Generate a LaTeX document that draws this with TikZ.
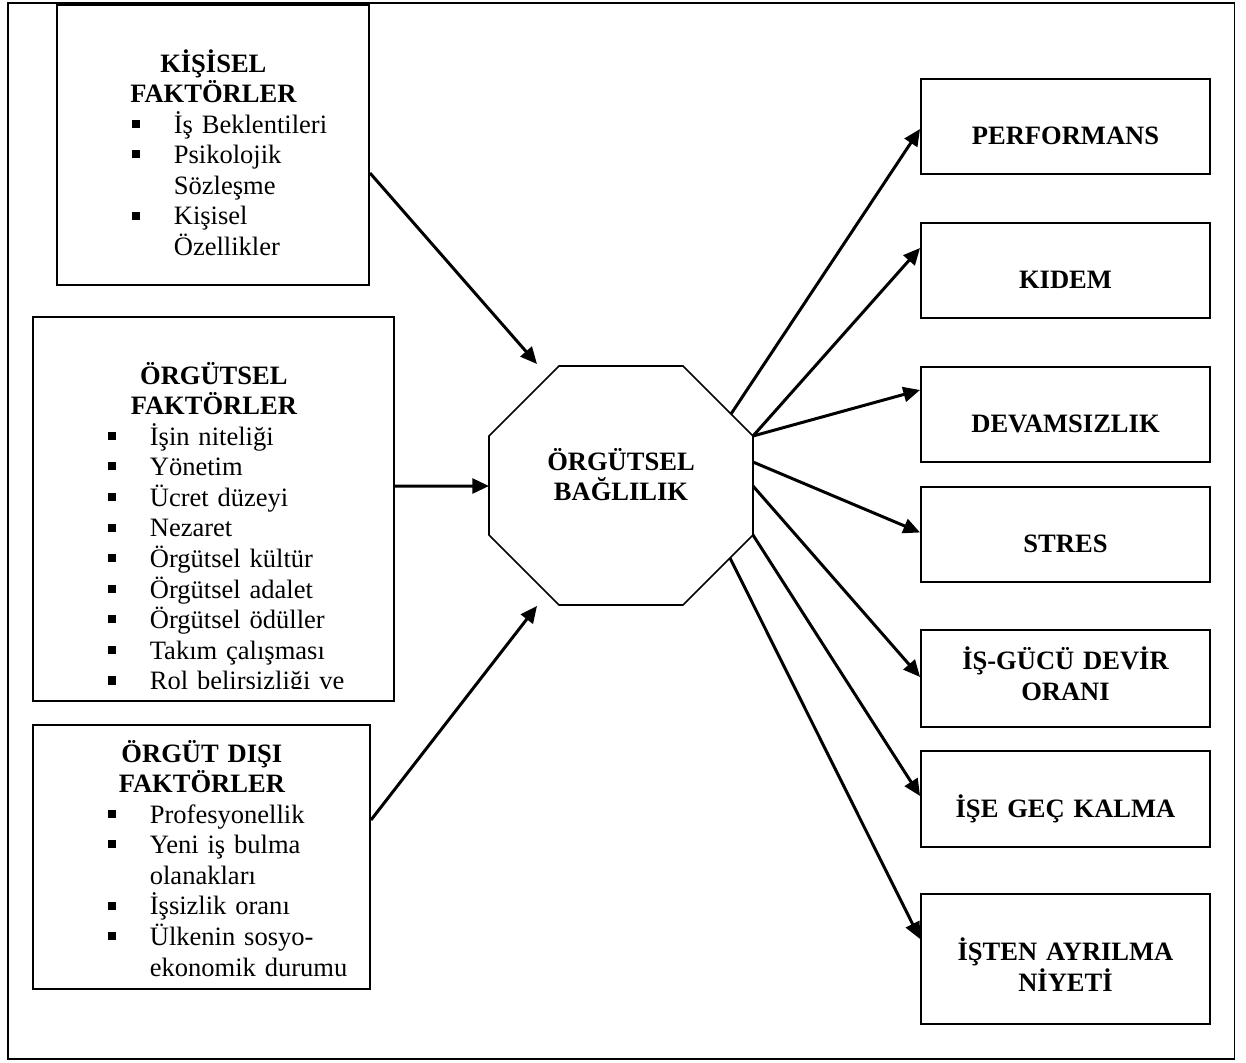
\documentclass[tikz,border=0pt]{standalone}
\usepackage{fontspec}
\setmainfont{Liberation Serif}
\usetikzlibrary{arrows.meta}

\lineskiplimit=-\maxdimen
\newcommand{\madde}[1]{\par\noindent\hspace*{1.5cm}\makebox[0.83cm][l]{\rule[3pt]{4.6pt}{4.6pt}}#1}
\newcommand{\devam}[1]{\par\noindent\hspace*{2.33cm}#1}

\begin{document}
\begin{tikzpicture}[font=\fontsize{15.1}{17.4}\selectfont,
    kutu/.style={draw, line width=1.1pt, inner sep=0pt},
    liste/.style={anchor=base west, inner sep=0pt, align=left},
    sonuc/.style={draw, line width=1.1pt, anchor=north, inner sep=0pt, text width=5.78cm, align=center, font=\fontsize{15.1}{17.4}\selectfont\bfseries, text height=1.32cm, text depth=0.58cm},
    ok/.style={-{Triangle[length=9.5pt,width=8.5pt]}, line width=1.7pt}]
        \useasboundingbox (0,0) rectangle (24.92,-21.24);
        \draw[line width=1.1pt] (0.16,-0.06) rectangle (24.69,-21.18);

        % factors
        \node[kutu, minimum width=6.24cm, minimum height=5.60cm] at (4.26,-2.90) (kisisel) {};
        \node[liste, text width=6.24cm] at (1.14,-1.44) (kisisel text) {%
            {\centering\bfseries KİŞİSEL\\FAKTÖRLER\par}
            \madde{İş Beklentileri}
            \madde{Psikolojik}
            \devam{Sözleşme}
            \madde{Kişisel}
            \devam{Özellikler}};

        \node[kutu, minimum width=7.22cm, minimum height=7.68cm] at (4.27,-10.18) (orgutsel) {};
        \begin{scope}
            \clip (0.66,-6.34) rectangle (7.88,-13.77);
            \node[liste, text width=7.22cm] at (0.66,-7.68) (orgutsel text) {%
                {\centering\bfseries ÖRGÜTSEL\\FAKTÖRLER\par}
                \madde{İşin niteliği}
                \madde{Yönetim}
                \madde{Ücret düzeyi}
                \madde{Nezaret}
                \madde{Örgütsel kültür}
                \madde{Örgütsel adalet}
                \madde{Örgütsel ödüller}
                \madde{Takım çalışması}
                \madde{Rol belirsizliği ve}};
        \end{scope}

        \node[kutu, minimum width=6.74cm, minimum height=5.28cm] at (4.03,-17.14) (orgut disi) {};
        \node[liste, text width=6.74cm] at (0.66,-15.24) (orgut disi text) {%
            {\centering\bfseries ÖRGÜT DIŞI\\FAKTÖRLER\par}
            \madde{Profesyonellik}
            \madde{Yeni iş bulma}
            \devam{olanakları}
            \madde{İşsizlik oranı}
            \madde{Ülkenin sosyo-}
            \devam{ekonomik durumu}};

        % commitment
        \coordinate (o1) at (11.18,-7.32);
        \coordinate (o2) at (13.66,-7.32);
        \coordinate (o3) at (15.06,-8.72);
        \coordinate (o4) at (15.06,-10.70);
        \coordinate (o5) at (13.66,-12.10);
        \coordinate (o6) at (11.18,-12.10);
        \coordinate (o7) at (9.78,-10.70);
        \coordinate (o8) at (9.78,-8.72);
        \draw[line width=0.9pt] (o1) -- (o2) -- (o3) -- (o4) -- (o5) -- (o6) -- (o7) -- (o8) -- cycle;
        \node[font=\fontsize{15.1}{17.4}\selectfont\bfseries, text width=4.4cm, align=center, anchor=base, inner sep=0pt] at (12.42,-9.40) (baglilik) {ÖRGÜTSEL\\BAĞLILIK};

        % outcomes
        \node[sonuc] at (21.31,-1.56) (performans) {PERFORMANS};
        \node[sonuc] at (21.31,-4.44) (kidem) {KIDEM};
        \node[sonuc] at (21.31,-7.32) (devamsizlik) {DEVAMSIZLIK};
        \node[sonuc] at (21.31,-9.72) (stres) {STRES};
        \node[sonuc, text height=0.80cm, text depth=1.14cm] at (21.31,-12.58) (isgucu) {İŞ-GÜCÜ DEVİR\\ORANI};
        \node[sonuc, text height=1.34cm] at (21.31,-15.00) (gec) {İŞE GEÇ KALMA};
        \node[sonuc, text height=1.34cm, text depth=1.26cm] at (21.31,-17.86) (isten) {İŞTEN AYRILMA\\NİYETİ};

        % links
        \coordinate (c kisisel) at (10.74,-7.28);
        \coordinate (c orgutsel) at (9.78,-9.72);
        \coordinate (c disi) at (10.74,-12.12);
        \draw[ok] ([yshift=-0.56cm]kisisel.east) -- (c kisisel);
        \draw[ok] ([yshift=0.46cm]orgutsel.east) -- (c orgutsel);
        \draw[ok] ([yshift=0.74cm]orgut disi.east) -- (c disi);

        \coordinate (c perf) at (14.62,-8.28);
        \coordinate (c stres) at (15.06,-9.24);
        \coordinate (c isgucu) at (15.06,-9.72);
        \coordinate (c isten) at (14.60,-11.16);
        \draw[ok] (c perf) -- ([yshift=-0.05cm]performans.west);
        \draw[ok] (o3) -- ([yshift=0.45cm]kidem.west);
        \draw[ok] (o3) -- ([yshift=0.49cm]devamsizlik.west);
        \draw[ok] (c stres) -- ([yshift=0.04cm]stres.west);
        \draw[ok] (c isgucu) -- ([yshift=0.03cm]isgucu.west);
        \draw[ok] (o4) -- ([yshift=0.06cm]gec.west);
        \draw[ok] (c isten) -- ([yshift=0.40cm]isten.west);
    \end{tikzpicture}
\end{document}
